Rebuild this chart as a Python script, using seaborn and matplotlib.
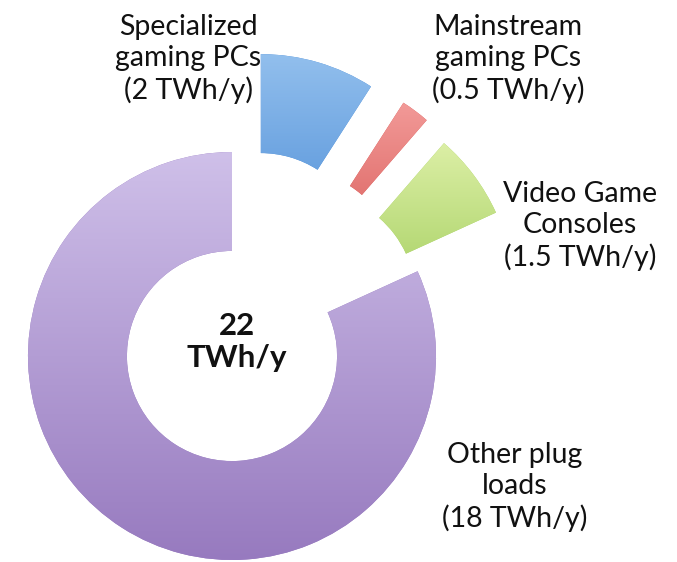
import numpy as np
import matplotlib
matplotlib.use("Agg")
import matplotlib.pyplot as plt
import seaborn as sns
from matplotlib.colors import LinearSegmentedColormap

# ---- data ----
categories = ["Specialized gaming PCs", "Mainstream gaming PCs", "Video Game Consoles", "Other plug loads"]
values = [2, 0.5, 1.5, 18]
label_texts = ["Specialized\ngaming PCs\n(2 TWh/y)",
               "Mainstream\ngaming PCs\n(0.5 TWh/y)",
               "Video Game\nConsoles\n(1.5 TWh/y)",
               "Other plug\nloads\n(18 TWh/y)"]
center_text = "22\nTWh/y"

# ---- style ----
sns.set_theme(style="white")
plt.rcParams['font.family'] = ['Lato', 'DejaVu Sans']

explode = [0.5, 0.5, 0.48, 0.0]
grad_colors = [("#92bfed", "#4a8bd6"),
               ("#f29a98", "#d65552"),
               ("#dcefa6", "#a6d062"),
               ("#cfc0e9", "#977abf")]
base_colors = [c[1] for c in grad_colors]

W, H = 677, 562
fig = plt.figure(figsize=(W / 100, H / 100), dpi=100)
ax = fig.add_axes([0, 0, 1, 1])

R_px = 204.0
cx, cy = 232.0, 356.0  # pixel position of pie centre (from top-left)
ax.set_xlim(-cx / R_px, (W - cx) / R_px)
ax.set_ylim(-(H - cy) / R_px, cy / R_px)
ax.set_aspect("equal")
ax.axis("off")

wedges, _ = ax.pie(values, startangle=90, counterclock=False, radius=1.0,
                   explode=explode, colors=base_colors,
                   wedgeprops=dict(width=0.485, linewidth=0))

# vertical gradient fill clipped to each wedge (light at top, darker at bottom)
for w, (c_top, c_bot) in zip(wedges, grad_colors):
    verts = w.get_patch_transform().transform(w.get_path().vertices)
    x0, y0 = verts.min(axis=0)
    x1, y1 = verts.max(axis=0)
    cmap = LinearSegmentedColormap.from_list("g", [c_top, c_bot])
    grad = np.linspace(0, 1, 256).reshape(-1, 1)
    im = ax.imshow(grad, cmap=cmap, extent=(x0, x1, y0, y1), aspect="auto",
                   origin="upper", zorder=w.get_zorder() + 0.1, interpolation="bilinear")
    im.set_clip_path(w)

ax.set_xlim(-cx / R_px, (W - cx) / R_px)
ax.set_ylim(-(H - cy) / R_px, cy / R_px)

def px2data(x, y):
    return (x - cx) / R_px, (cy - y) / R_px

label_pos_px = [(188, 59), (508, 59), (580, 226), (515, 487)]
for txt, (lx, ly) in zip(label_texts, label_pos_px):
    dx, dy = px2data(lx, ly)
    ax.text(dx, dy, txt, ha="center", va="center", fontsize=20.5,
            linespacing=1.25, color="#111111", zorder=5)

dx, dy = px2data(237, 342)
ax.text(dx, dy, center_text, ha="center", va="center", fontsize=22.5,
        fontweight="bold", linespacing=1.15, color="#111111", zorder=5)

fig.savefig("out.png", dpi=100, facecolor="white")
